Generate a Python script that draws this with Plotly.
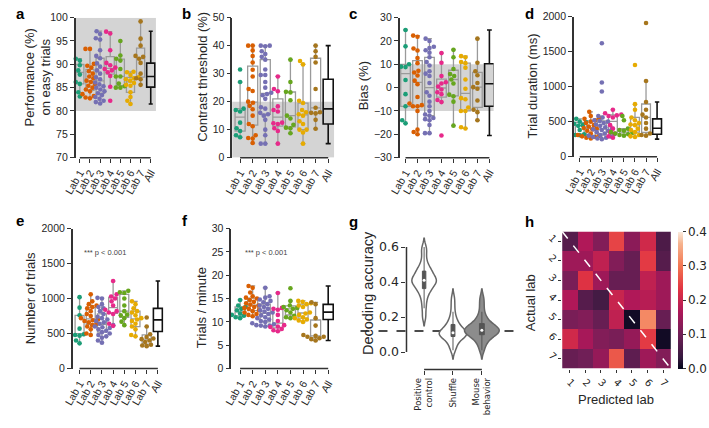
import numpy as np
import plotly.graph_objects as go

# ---------------- data ----------------
LAB_NAMES = ["Lab 1", "Lab 2", "Lab 3", "Lab 4", "Lab 5", "Lab 6", "Lab 7"]
X_TICK_LABELS = LAB_NAMES + ["All"]
LAB_COLORS = ["#1b9e77", "#d95f02", "#7570b3", "#e7298a", "#66a61e", "#e6ab02", "#a6761d"]

performance = [
    [91.2, 90.8, 90.0, 89.8, 88.7, 87.8, 86.2, 85.8, 84.0, 83.1],
    [93.3, 93.3, 90.1, 89.7, 89.3, 88.5, 88.0, 87.4, 87.0, 86.5, 86.2, 85.8, 85.4, 85.0, 84.6, 84.2, 83.6, 83.2, 82.9, 82.7],
    [97.1, 96.5, 95.6, 95.3, 93.0, 91.8, 91.3, 90.2, 89.5, 88.7, 88.0, 87.2, 86.8, 86.1, 85.7, 85.3, 85.0, 84.6, 84.2, 83.8,
     83.4, 83.0, 82.6, 82.2, 81.9, 81.6],
    [97.0, 96.6, 93.0, 90.3, 89.8, 89.3, 89.0, 88.7, 88.3, 87.5, 85.2, 82.2],
    [95.0, 91.9, 91.2, 90.8, 89.0, 87.4, 87.4, 85.9, 85.3, 85.0, 85.0],
    [88.4, 88.3, 87.7, 87.2, 87.0, 86.8, 86.5, 86.0, 85.6, 85.4, 84.0, 83.0, 82.2, 81.5],
    [99.2, 95.5, 94.0, 91.8, 91.6, 91.2, 90.3, 88.0, 87.0, 86.8, 85.6],
]
threshold = [
    [31.5, 27.0, 17.5, 17.0, 16.5, 12.5, 10.5, 9.5, 8.0, 7.3],
    [40, 40, 38.3, 36.3, 34, 31.4, 29, 24.5, 23.8, 20, 19.6, 18.5, 17.3, 15, 12, 11.2, 8, 7, 6.8, 5.2],
    [40, 40, 39.8, 38, 37, 36, 35, 31.5, 29.5, 29.5, 27, 25, 23.2, 22.7, 22.3, 21, 18, 17.5, 16, 15.5,
     15, 13.5, 10, 8, 5, 5],
    [29, 24.5, 23.7, 18.3, 17, 16.5, 12.5, 12.3, 12, 10.5, 9.5, 5],
    [35, 27, 23.5, 23.3, 20.5, 15, 14, 11.7, 10.7, 10.5, 8.7],
    [34.5, 33.3, 20.3, 19.5, 17, 16.2, 15.5, 15, 13, 12, 10, 10, 9, 5],
    [40, 38, 36, 34, 24.5, 17.8, 16.2, 16, 15.8, 13.5, 10.3],
]
bias = [
    [24.7, 17.7, 10, 9, 8.8, 3.3, -2.8, -8, -14, -15.3],
    [22.3, 21.8, 16.8, 15.9, 12.7, 10.5, 7.2, 6.5, 5.2, 3.0, 1.5, -4, -6.8, -7.5, -8, -8, -10, -18, -19, -20],
    [21, 20, 17.5, 17, 16, 15, 13, 11, 9.5, 7, 6, 5, 2, -2, -3.5, -6, -8, -10, -11.5, -12,
     -13, -13.5, -14, -16, -19.5, -19.5],
    [14.8, 10.7, 5.0, 2.3, 1.8, 0.5, -0.8, -2.0, -2.8, -5.3, -6.2, -20.5],
    [16.2, 13, 8, 5.8, 5, 3.5, 1.8, -3, -3.7, -6, -16.3],
    [13.5, 13, 11, 10.5, 8.5, 3.5, -0.5, -4.5, -5, -8.5, -10, -10, -17, -17.5],
    [21, 10.7, 7, 5.3, 2.0, 0.2, -0.5, -5.5, -9.5, -10.5, -14],
]
trial_duration = [
    [540, 500, 490, 470, 450, 440, 380, 320, 310, 305],
    [640, 580, 550, 540, 520, 500, 480, 450, 430, 410, 400, 390, 370, 330, 310, 300, 290, 280, 270, 260],
    [1620, 1060, 930, 580, 560, 520, 510, 500, 480, 460, 440, 420, 400, 390, 380, 370, 350, 330, 320, 310,
     300, 290, 280, 270, 260, 250],
    [670, 620, 600, 590, 580, 560, 450, 400, 350, 330, 290, 270],
    [580, 520, 400, 380, 370, 350, 340, 330, 320, 310, 300],
    [1310, 750, 670, 560, 520, 480, 460, 450, 400, 380, 350, 310, 290, 280],
    [1910, 1080, 780, 670, 600, 560, 480, 400, 330, 310, 300],
]
n_trials = [
    [1020, 870, 760, 570, 510, 490, 480, 470, 400, 360],
    [1060, 960, 920, 900, 880, 860, 820, 780, 750, 720, 700, 690, 680, 660, 640, 620, 600, 560, 500, 480],
    [1010, 1000, 920, 880, 860, 820, 780, 740, 720, 700, 680, 660, 640, 620, 600, 590, 580, 560, 540, 520,
     500, 480, 460, 440, 400, 370],
    [1250, 1060, 1030, 1000, 960, 900, 840, 820, 800, 780, 640, 610],
    [1110, 1090, 1080, 1000, 900, 820, 770, 760, 720, 670, 620],
    [960, 920, 860, 820, 800, 760, 720, 700, 680, 640, 600, 560, 480, 460],
    [730, 600, 490, 450, 430, 420, 400, 380, 340, 330, 320],
]
trials_per_min = [
    [14.7, 13.5, 13.2, 12.8, 12.5, 11.8, 11.5, 11.3, 11.0, 10.8],
    [17.7, 17.3, 16.3, 15.5, 15.2, 15.0, 14.7, 14.3, 14.0, 13.7, 13.5, 13.2, 13.0, 12.8, 12.5, 12.3, 12.0, 11.7, 11.5, 11.2],
    [17.3, 15.5, 15.2, 14.8, 14.5, 14.2, 13.8, 13.5, 13.2, 12.8, 12.5, 12.2, 12.0, 11.7, 11.4, 11.0, 10.8, 10.5, 10.2, 10.0,
     9.7, 9.5, 9.3, 9.2, 9.2, 9.0],
    [16.2, 13.0, 12.8, 12.6, 11.5, 10.2, 9.3, 9.0, 8.9, 8.5, 8.2, 8.0],
    [17.2, 14.5, 13.5, 13.2, 13.0, 12.8, 12.5, 12.0, 11.3, 11.0, 10.8],
    [14.5, 14.3, 14.0, 13.8, 13.5, 13.2, 12.0, 11.8, 11.5, 11.0, 10.8, 10.5, 10.3, 10.0],
    [14.2, 13.8, 10.8, 9.2, 7.2, 7.0, 6.8, 6.5, 6.3, 6.0, 6.8],
]

decoding_categories = ["Positive<br>control", "Shuffle", "Mouse<br>behavior"]
decoding_positive = [0.20, 0.25, 0.29, 0.32, 0.34, 0.355, 0.365, 0.375, 0.385, 0.395, 0.40, 0.405, 0.41,
                     0.415, 0.42, 0.43, 0.44, 0.45, 0.46, 0.47, 0.48, 0.50, 0.53, 0.57, 0.60]
decoding_shuffle = [0.01, 0.03, 0.05, 0.065, 0.075, 0.085, 0.09, 0.095, 0.10, 0.10, 0.105, 0.11, 0.11,
                    0.115, 0.12, 0.125, 0.135, 0.145, 0.155, 0.165, 0.18, 0.20, 0.23, 0.27, 0.31]
decoding_mouse = [0.01, 0.04, 0.06, 0.075, 0.085, 0.095, 0.10, 0.105, 0.11, 0.115, 0.12, 0.125, 0.125,
                  0.13, 0.135, 0.14, 0.145, 0.15, 0.16, 0.17, 0.185, 0.20, 0.23, 0.27, 0.31]
chance_level = 0.12

confusion_labels = ["1", "2", "3", "4", "5", "6", "7"]
confusion = [
    [0.07, 0.17, 0.12, 0.25, 0.13, 0.21, 0.06],
    [0.15, 0.15, 0.19, 0.12, 0.09, 0.24, 0.07],
    [0.11, 0.23, 0.15, 0.09, 0.09, 0.19, 0.15],
    [0.17, 0.07, 0.05, 0.20, 0.17, 0.18, 0.15],
    [0.11, 0.12, 0.09, 0.19, 0.01, 0.32, 0.09],
    [0.21, 0.16, 0.12, 0.11, 0.14, 0.24, 0.01],
    [0.09, 0.10, 0.14, 0.27, 0.08, 0.15, 0.12],
]

# ---------------- helpers ----------------
W, H = 709, 428
ARIAL = "Liberation Sans, Arial, sans-serif"
DEJAVU = "DejaVu Sans, sans-serif"
AX = "#333333"
TXT = "#262626"


def px(x):
    return x / W


def py(y):
    return 1 - y / H


def beeswarm(values, unit_x, unit_y, diam):
    vals = np.asarray(values, dtype=float)
    order = np.argsort(vals, kind="stable")
    placed = []
    offsets = np.zeros(len(vals))
    for idx in order:
        yp = vals[idx] * unit_y
        cands = [0.0]
        for (xq, yq) in placed:
            dy = abs(yp - yq)
            if dy < diam:
                dx = np.sqrt(diam ** 2 - dy ** 2)
                cands.extend([xq + dx, xq - dx])
        cands = sorted(cands, key=lambda c: (abs(c), c))
        chosen = cands[-1]
        for c in cands:
            if all((c - xq) ** 2 + (yp - yq) ** 2 >= diam ** 2 - 1e-6 for (xq, yq) in placed):
                chosen = c
                break
        placed.append((chosen, yp))
        offsets[idx] = chosen / unit_x
    return offsets


fig = go.Figure()
shapes = []
annotations = []
layout = {}

# geometry in pixels: left, right, first tick, last tick, top, bottom
GEOM = [
    (64, 146, 68.3, 140.7, 12, 156),
    (224, 328, 232, 322, 12, 156),
    (395, 491, 401, 486.7, 12, 156),
    (573, 664, 579, 658, 11, 155),
    (61, 154, 68, 148, 229, 373),
    (223, 328, 232, 322, 229, 373),
]
PANEL_DATA = [performance, threshold, bias, trial_duration, n_trials, trials_per_min]
Y_RANGES = [[70, 100], [0, 50], [-30, 30], [0, 2000], [0, 2000], [0, 30]]
Y_DTICKS = [5, 10, 10, 500, 500, 5]
BANDS = [[80, 100], [0, 20], [-10, 10], None, None, None]
Y_TITLES = ["Performance (%)<br>on easy trials", "Contrast threshold (%)", "Bias (%)",
            "Trial duration (ms)", "Number of trials", "Trials / minute"]
Y_TITLE_POS = [(25, 73), (194, 73), (358, 82), (531, 82), (18, 301), (192, 310)]
P_TEXT_POS = [None, None, None, None, (71, 254), (235, 254)]

for p in range(6):
    s = "" if p == 0 else str(p + 1)
    xa, ya = "x" + s, "y" + s
    left, right, t0, t7, top, bot = GEOM[p]
    unit = (t7 - t0) / 7
    xr = [(left - t0) / unit, (right - t0) / unit]
    yr = Y_RANGES[p]
    unit_y = (bot - top) / (yr[1] - yr[0])
    data = PANEL_DATA[p]

    layout["xaxis" + s] = dict(
        domain=[px(left), px(right)], range=xr, anchor=ya,
        tickvals=list(range(8)), ticktext=X_TICK_LABELS, tickangle=-60,
        ticks="outside", ticklen=4, tickwidth=1.3, tickcolor=AX,
        showline=False, showgrid=False, zeroline=False,
        tickfont=dict(family=ARIAL, size=10.5, color=TXT),
    )
    layout["yaxis" + s] = dict(
        domain=[py(bot), py(top)], range=yr, anchor=xa,
        tickvals=list(np.arange(yr[0], yr[1] + 1e-9, Y_DTICKS[p])),
        ticks="outside", ticklen=4, tickwidth=1.3, tickcolor=AX,
        showline=True, linecolor=AX, linewidth=1.5,
        showgrid=False, zeroline=False,
        tickfont=dict(family=ARIAL, size=10.5, color=TXT),
    )
    # trimmed x axis line
    shapes.append(dict(type="line", xref=xa, yref=ya + " domain", x0=0, x1=7, y0=0, y1=0,
                       line=dict(color=AX, width=1.5)))
    if BANDS[p] is not None:
        shapes.append(dict(type="rect", xref=xa + " domain", yref=ya, x0=0, x1=1,
                           y0=BANDS[p][0], y1=BANDS[p][1], fillcolor="#d4d4d4",
                           line=dict(width=0), layer="below"))
    # lab boxes
    for i, vals in enumerate(data):
        fig.add_trace(go.Box(
            x=[i] * len(vals), y=vals, xaxis=xa, yaxis=ya, width=0.8,
            line=dict(color="#9a9a9a", width=1.3), fillcolor="rgba(0,0,0,0)",
            boxpoints="outliers", marker=dict(opacity=0, size=1), whiskerwidth=0.5,
            hoverinfo="skip", showlegend=False))
    all_vals = [v for vals in data for v in vals]
    fig.add_trace(go.Box(
        x=[7] * len(all_vals), y=all_vals, xaxis=xa, yaxis=ya, width=0.8,
        line=dict(color="#111111", width=1.6), fillcolor="rgba(0,0,0,0)",
        boxpoints="outliers", marker=dict(opacity=0, size=1), whiskerwidth=0.5,
        hoverinfo="skip", showlegend=False))
    # swarms
    for i, vals in enumerate(data):
        offs = beeswarm(vals, unit, unit_y, 4.6)
        fig.add_trace(go.Scatter(
            x=i + offs, y=vals, xaxis=xa, yaxis=ya, mode="markers",
            marker=dict(size=4.6, color=LAB_COLORS[i], line=dict(width=0)),
            cliponaxis=False, hoverinfo="skip", showlegend=False))
    tx, ty = Y_TITLE_POS[p]
    annotations.append(dict(text=Y_TITLES[p], x=px(tx), y=py(ty), xref="paper", yref="paper",
                            showarrow=False, textangle=-90, xanchor="center", yanchor="middle",
                            font=dict(family=ARIAL, size=13, color=TXT)))
    if P_TEXT_POS[p] is not None:
        ptx, pty = P_TEXT_POS[p]
        annotations.append(dict(text="*** p < 0.001", x=px(ptx), y=py(pty), xref="paper", yref="paper",
                                showarrow=False, xanchor="left", yanchor="middle",
                                font=dict(family=ARIAL, size=7.5, color="#444444")))

# ---------------- panel g: violins ----------------
g_left, g_right, g_c0, g_c2, g_top, g_bot = 402, 500, 420, 479, 237, 374
g_unit = (g_c2 - g_c0) / 2
g_y0px, g_y06px = 356, 248
g_unit_y = (g_y0px - g_y06px) / 0.6
g_xr = [(g_left - g_c0) / g_unit, (g_right - g_c0) / g_unit]
g_yr = [-(g_bot - g_y0px) / g_unit_y, (g_y0px - g_top) / g_unit_y]

layout["xaxis7"] = dict(domain=[px(g_left), px(g_right)], range=g_xr, anchor="y7",
                        tickvals=[0, 1, 2], ticktext=decoding_categories, tickangle=-90,
                        ticks="outside", ticklen=4, tickwidth=1.3, tickcolor=AX,
                        showline=False, showgrid=False, zeroline=False,
                        tickfont=dict(family=DEJAVU, size=8.5, color=TXT))
layout["yaxis7"] = dict(domain=[py(g_bot), py(g_top)], range=g_yr, anchor="x7",
                        tickvals=[0, 0.2, 0.4, 0.6], ticktext=["0.0", "0.2", "0.4", "0.6"],
                        ticks="outside", ticklen=4, tickwidth=1.3, tickcolor=AX,
                        showline=False, showgrid=False, zeroline=False,
                        tickfont=dict(family=DEJAVU, size=12.5, color=TXT))
shapes.append(dict(type="line", xref="x7 domain", yref="y7", x0=0, x1=0, y0=0, y1=0.6,
                   line=dict(color=AX, width=1.5)))
shapes.append(dict(type="line", xref="x7", yref="y7 domain", x0=0, x1=2, y0=0, y1=0,
                   line=dict(color=AX, width=1.5)))
chance_frac = (chance_level - g_yr[0]) / (g_yr[1] - g_yr[0])
shapes.append(dict(type="line", xref="x7 domain", yref="y7 domain",
                   x0=(355 - g_left) / (g_right - g_left), x1=(513 - g_left) / (g_right - g_left),
                   y0=chance_frac, y1=chance_frac, layer="below",
                   line=dict(color="#111111", width=1.4, dash="dash")))

violin_sets = [decoding_positive, decoding_shuffle, decoding_mouse]
violin_fill = ["#ffffff", "#ffffff", "#8c8c8c"]
violin_width = [0.85, 0.95, 1.2]
for k, vals in enumerate(violin_sets):
    fig.add_trace(go.Violin(
        x=[k] * len(vals), y=vals, xaxis="x7", yaxis="y7", width=violin_width[k],
        fillcolor=violin_fill[k], line=dict(color="#666666", width=1.5),
        bandwidth=0.025, spanmode="soft", points=False,
        box=dict(visible=True, width=0.14, fillcolor="#555555", line=dict(color="#555555", width=1)),
        meanline=dict(visible=False), hoverinfo="skip", showlegend=False))
    fig.add_trace(go.Scatter(
        x=[k], y=[float(np.median(vals))], xaxis="x7", yaxis="y7", mode="markers",
        marker=dict(size=3, color="white"), hoverinfo="skip", showlegend=False))

annotations.append(dict(text="Decoding accuracy", x=px(362), y=py(295), xref="paper", yref="paper",
                        showarrow=False, textangle=-90, xanchor="center", yanchor="middle",
                        font=dict(family=ARIAL, size=14.5, color=TXT)))

# ---------------- panel h: heatmap ----------------
h_left, h_right, h_top, h_bot = 561, 672, 232, 373
rocket = [[0.0, "#03051a"], [0.083, "#35193e"], [0.25, "#701f57"], [0.417, "#ad1759"],
          [0.583, "#e13342"], [0.75, "#f37651"], [0.917, "#f6b48f"], [1.0, "#faebdd"]]
fig.add_trace(go.Heatmap(
    z=confusion, x=list(range(1, 8)), y=list(range(1, 8)), xaxis="x8", yaxis="y8",
    colorscale=rocket, zmin=0, zmax=0.4, hoverinfo="skip",
    colorbar=dict(x=px(679), xanchor="left", xref="paper", thickness=5, thicknessmode="pixels",
                  len=(h_bot - h_top) / H, lenmode="fraction", y=py((h_top + h_bot) / 2),
                  yanchor="middle", xpad=0, ypad=0, outlinewidth=0,
                  tickvals=[0, 0.1, 0.2, 0.3, 0.4], ticktext=["0.0", "0.1", "0.2", "0.3", "0.4"],
                  ticks="outside", ticklen=3, tickcolor=AX,
                  tickfont=dict(family=DEJAVU, size=12, color=TXT))))
layout["xaxis8"] = dict(domain=[px(h_left), px(h_right)], range=[0.5, 7.5], anchor="y8",
                        tickvals=list(range(1, 8)), ticktext=confusion_labels, tickangle=45,
                        ticks="outside", ticklen=3, tickwidth=1.2, tickcolor=AX,
                        showline=False, showgrid=False, zeroline=False,
                        tickfont=dict(family=DEJAVU, size=10, color=TXT))
layout["yaxis8"] = dict(domain=[py(h_bot), py(h_top)], range=[7.5, 0.5], anchor="x8",
                        tickvals=list(range(1, 8)), ticktext=confusion_labels, tickangle=45,
                        ticks="outside", ticklen=3, tickwidth=1.2, tickcolor=AX,
                        showline=False, showgrid=False, zeroline=False,
                        tickfont=dict(family=DEJAVU, size=10, color=TXT))
shapes.append(dict(type="line", xref="x8 domain", yref="y8 domain", x0=0, y0=1, x1=1, y1=0,
                   layer="above", line=dict(color="white", width=1.5, dash="dash")))
annotations.append(dict(text="Actual lab", x=px(529), y=py(305), xref="paper", yref="paper",
                        showarrow=False, textangle=-90, xanchor="center", yanchor="middle",
                        font=dict(family=ARIAL, size=13, color=TXT)))
annotations.append(dict(text="Predicted lab", x=px(616), y=py(405), xref="paper", yref="paper",
                        showarrow=False, xanchor="center", yanchor="middle",
                        font=dict(family=ARIAL, size=13, color=TXT)))

# ---------------- panel letters ----------------
for letter, lx, ly in [("a", 1, 8), ("b", 171, 8), ("c", 341, 8), ("d", 521, 8),
                       ("e", 1, 221), ("f", 171, 221), ("g", 341, 222), ("h", 521, 222)]:
    annotations.append(dict(text="<b>%s</b>" % letter, x=px(lx), y=py(ly), xref="paper", yref="paper",
                            showarrow=False, xanchor="left", yanchor="middle",
                            font=dict(family=ARIAL, size=15, color="black")))

fig.update_layout(
    width=W, height=H, margin=dict(l=0, r=0, t=0, b=0),
    paper_bgcolor="white", plot_bgcolor="white",
    showlegend=False, hovermode=False,
    boxmode="overlay", violinmode="overlay",
    shapes=shapes, annotations=annotations,
    font=dict(family=ARIAL, color=TXT),
    **layout,
)

fig.write_html("out.html", config={"displayModeBar": False},
               post_script="document.body.style.margin='0px';document.body.style.padding='0px';")
